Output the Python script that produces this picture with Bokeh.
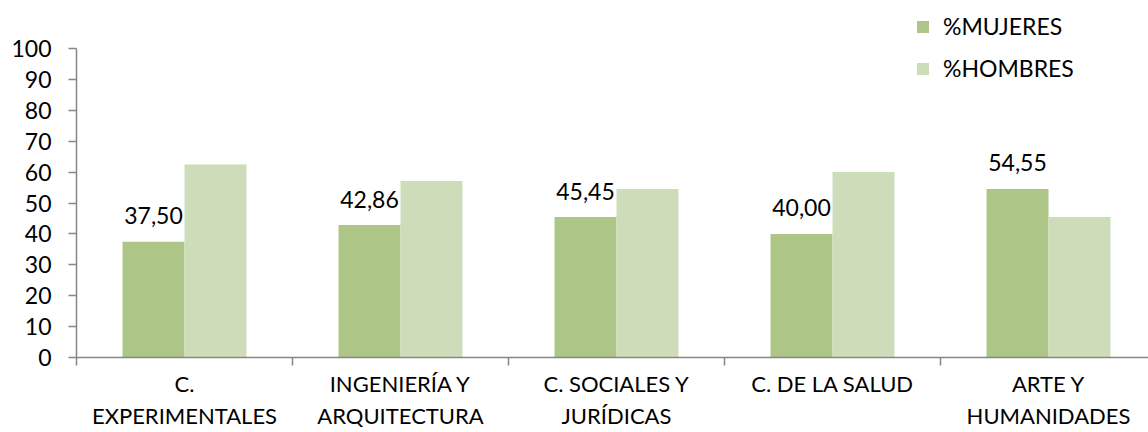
from bokeh.plotting import figure
from bokeh.models import ColumnDataSource, FixedTicker, Legend, LegendItem, LabelSet
from bokeh.core.properties import value
from bokeh.transform import dodge
from bokeh.embed import file_html
from bokeh.resources import INLINE

categories = ["C.\nEXPERIMENTALES", "INGENIERÍA Y\nARQUITECTURA", "C. SOCIALES Y\nJURÍDICAS",
              "C. DE LA SALUD", "ARTE Y\nHUMANIDADES"]
mujeres = [37.50, 42.86, 45.45, 40.00, 54.55]
hombres = [62.50, 57.14, 54.55, 60.00, 45.45]
mujeres_labels = ["37,50", "42,86", "45,45", "40,00", "54,55"]
y_ticks = list(range(0, 101, 10))

C_M = "#ADC687"
C_H = "#CEDDB9"
FONT = "Lato"
FS = "23px"

centers = [i + 0.5 for i in range(len(categories))]
src = ColumnDataSource(dict(x=centers, m=mujeres, h=hombres, lab=mujeres_labels))

BW = 0.287
Y_TOP = 100 * 357 / 309  # extra headroom above 100 so the legend sits inside the frame

p = figure(frame_width=1072, frame_height=357, output_backend="svg", toolbar_location=None,
           x_range=(0, 4.963), y_range=(0, Y_TOP),
           min_border_left=76, min_border_right=0, min_border_top=0, min_border_bottom=60)
p.outline_line_color = None
p.xgrid.visible = False
p.ygrid.visible = False
p.background_fill_color = "white"

rm = p.vbar(x=dodge("x", -BW / 2, range=p.x_range), top="m", width=BW, source=src,
            fill_color=C_M, line_color=None)
rh = p.vbar(x=dodge("x", BW / 2, range=p.x_range), top="h", width=BW, source=src,
            fill_color=C_H, line_color=None)

labels = LabelSet(x=dodge("x", -BW / 2, range=p.x_range), y="m", text="lab", source=src,
                  text_align="center", text_baseline="middle", y_offset=26,
                  text_font=value(FONT), text_font_size=value(FS), text_color="black")
p.add_layout(labels)

# y axis
ya = p.yaxis[0]
ya.ticker = FixedTicker(ticks=y_ticks)
ya.bounds = (0, 100)
ya.axis_line_color = "#868686"
ya.axis_line_width = 1.5
ya.major_tick_line_color = "#868686"
ya.major_tick_line_width = 1.5
ya.major_tick_out = 8
ya.major_tick_in = 0
ya.minor_tick_line_color = None
ya.major_label_text_font = FONT
ya.major_label_text_font_size = FS
ya.major_label_text_color = "black"
ya.major_label_standoff = 17

# x axis
xa = p.xaxis[0]
xa.ticker = FixedTicker(ticks=centers, minor_ticks=list(range(len(categories) + 1)))
xa.major_label_overrides = {c: lab for c, lab in zip(centers, categories)}
xa.axis_line_color = "#868686"
xa.axis_line_width = 1.5
xa.major_tick_line_color = None
xa.minor_tick_line_color = "#868686"
xa.minor_tick_line_width = 1.5
xa.minor_tick_out = 8
xa.minor_tick_in = 0
xa.major_label_text_font = FONT
xa.major_label_text_font_size = "22px"
xa.major_label_text_color = "black"
xa.major_label_standoff = 4

legend = Legend(items=[LegendItem(label="%MUJERES", renderers=[rm]),
                       LegendItem(label="%HOMBRES", renderers=[rh])],
                location=(839, 275), orientation="vertical",
                glyph_width=15, glyph_height=15, label_height=15, spacing=14,
                padding=0, margin=0, label_standoff=13,
                label_text_font=FONT, label_text_font_size=FS, label_text_color="black",
                border_line_alpha=0, background_fill_alpha=0)
p.add_layout(legend, "center")

open("out.html", "w").write(file_html(p, INLINE))
